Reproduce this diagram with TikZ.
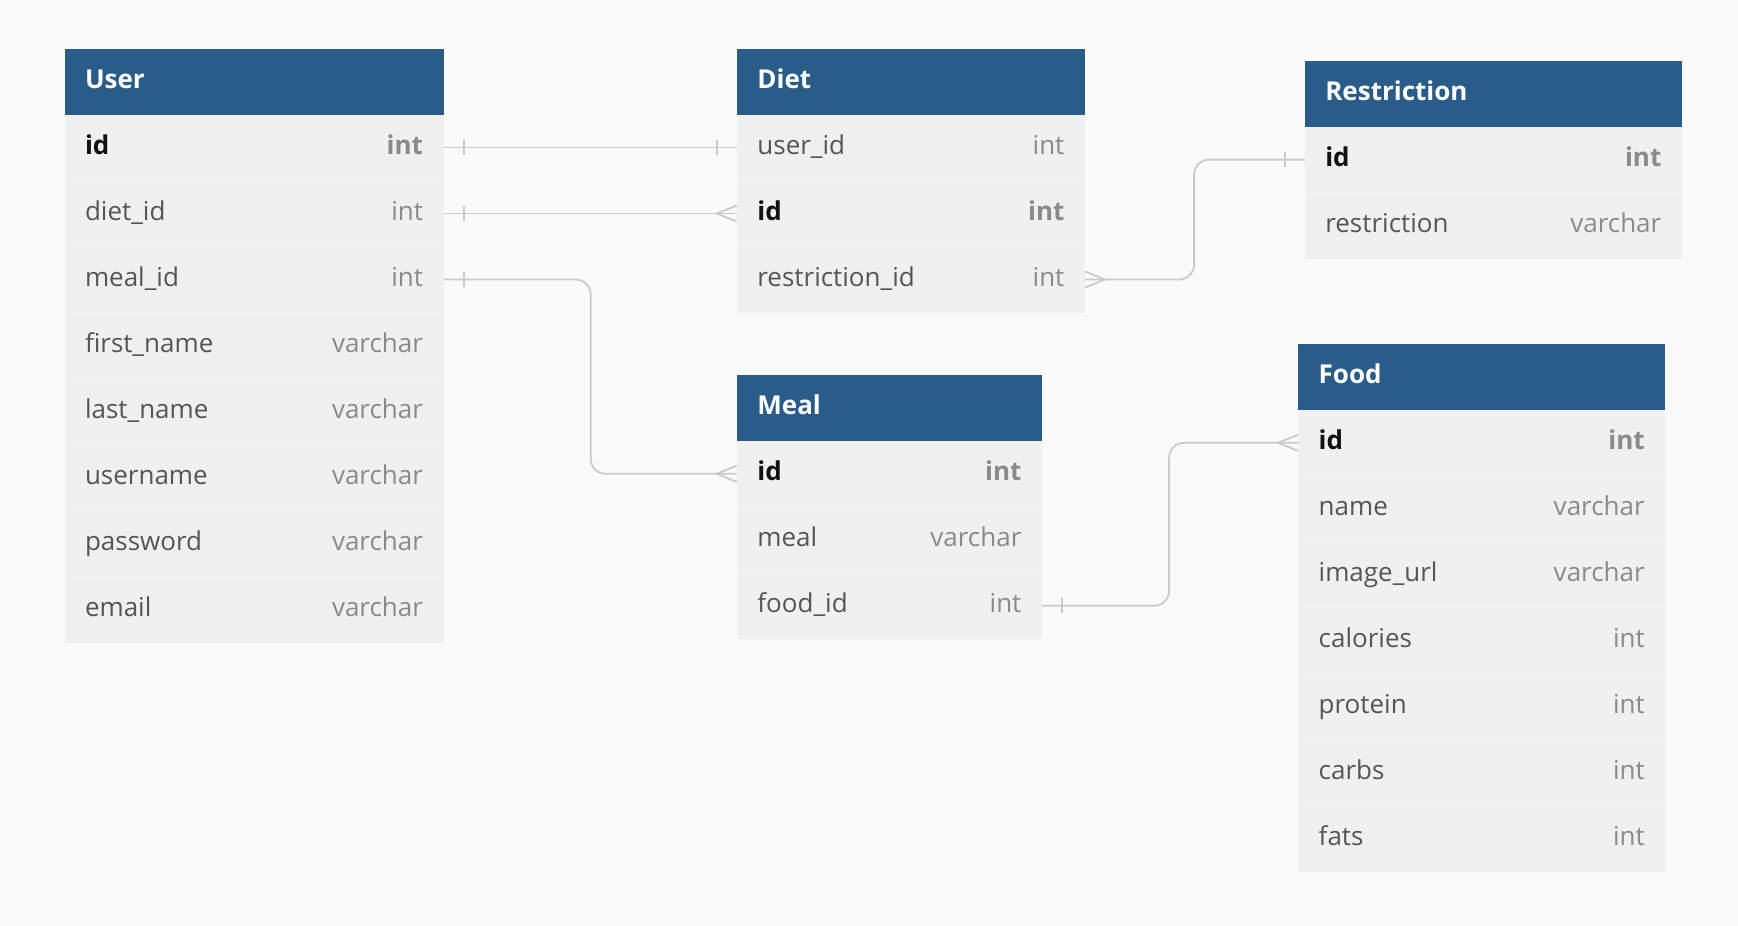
\documentclass[tikz,border=0pt]{standalone}
\usepackage{fontspec}
\setmainfont{Open Sans}
\definecolor{bgc}{HTML}{FAFAFA}
\definecolor{hdrc}{HTML}{2A5C8A}
\definecolor{rowc}{HTML}{F0F0F0}
\definecolor{sepc}{HTML}{F3F3F3}
\definecolor{fieldc}{HTML}{555555}
\definecolor{typec}{HTML}{8A8A8A}
\definecolor{keyc}{HTML}{111111}
\definecolor{linec}{HTML}{CACACA}
\newcommand\hdr[5]{\node[hdrbox, text width=#4] (#1) at (#2,#3) {#5};}
\newcommand\frow[6]{\node[rowbox, text width=#4] (#1) at (#2,#3) {\textcolor{fieldc}{#5}\hfill\textcolor{typec}{#6}};}
\newcommand\krow[6]{\node[rowbox, text width=#4] (#1) at (#2,#3) {\textcolor{keyc}{\bfseries #5}\hfill\textcolor{typec}{\bfseries #6}};}
\begin{document}
\begin{tikzpicture}[x=1pt,y=-1pt,
  every node/.style={font=\fontsize{26}{30}\selectfont},
  hdrbox/.style={anchor=north west, fill=hdrc, text=white, font=\fontsize{26}{30}\selectfont\bfseries,
     inner xsep=20.5pt, inner ysep=0pt, minimum height=66pt, text height=18pt, text depth=4.6pt, align=left},
  rowbox/.style={anchor=north west, fill=rowc, inner xsep=20.5pt, inner ysep=0pt, minimum height=66pt,
     text height=18pt, text depth=4.6pt},
  conn/.style={draw=linec, line width=1.8pt},
  elbow/.style={conn, rounded corners=15pt}]
\fill[bgc] (0,0) rectangle (1738,926);
% User
\hdr{user}{64.3}{48.3}{338pt}{User}
\krow{user-id}{64.3}{114.3}{338pt}{id}{int}
\frow{user-diet}{64.3}{180.3}{338pt}{diet\_id}{int}
\frow{user-meal}{64.3}{246.3}{338pt}{meal\_id}{int}
\frow{user-first}{64.3}{312.3}{338pt}{first\_name}{varchar}
\frow{user-last}{64.3}{378.3}{338pt}{last\_name}{varchar}
\frow{user-uname}{64.3}{444.3}{338pt}{username}{varchar}
\frow{user-pw}{64.3}{510.3}{338pt}{password}{varchar}
\frow{user-email}{64.3}{576.3}{338pt}{email}{varchar}
% Diet
\hdr{diet}{736.7}{48.3}{307pt}{Diet}
\frow{diet-user}{736.7}{114.3}{307pt}{user\_id}{int}
\krow{diet-id}{736.7}{180.3}{307pt}{id}{int}
\frow{diet-restr}{736.7}{246.3}{307pt}{restriction\_id}{int}
% Restriction
\hdr{restr}{1304.6}{60.4}{336pt}{Restriction}
\krow{restr-id}{1304.6}{126.4}{336pt}{id}{int}
\frow{restr-name}{1304.6}{192.4}{336pt}{restriction}{varchar}
% Meal
\hdr{meal}{736.7}{374.6}{264pt}{Meal}
\krow{meal-id}{736.7}{440.6}{264pt}{id}{int}
\frow{meal-meal}{736.7}{506.6}{264pt}{meal}{varchar}
\frow{meal-food}{736.7}{572.6}{264pt}{food\_id}{int}
% Food
\hdr{food}{1298}{343.6}{326pt}{Food}
\krow{food-id}{1298}{409.6}{326pt}{id}{int}
\frow{food-name}{1298}{475.6}{326pt}{name}{varchar}
\frow{food-img}{1298}{541.6}{326pt}{image\_url}{varchar}
\frow{food-cal}{1298}{607.6}{326pt}{calories}{int}
\frow{food-prot}{1298}{673.6}{326pt}{protein}{int}
\frow{food-carbs}{1298}{739.6}{326pt}{carbs}{int}
\frow{food-fats}{1298}{805.6}{326pt}{fats}{int}
% row separators
\foreach \r in {user-diet,user-meal,user-first,user-last,user-uname,user-pw,user-email,diet-id,diet-restr,restr-name,meal-meal,meal-food,food-name,food-img,food-cal,food-prot,food-carbs,food-fats}
  \draw[sepc, line width=0.6pt] (\r.north west) -- (\r.north east);
% User.id -- Diet.user_id (one to one)
\draw[conn] (user-id.east) -- (diet-user.west);
\draw[conn] ([xshift=20pt,yshift=7.5pt]user-id.east) -- ([xshift=20pt,yshift=-7.5pt]user-id.east);
\draw[conn] ([xshift=-20pt,yshift=7.5pt]diet-user.west) -- ([xshift=-20pt,yshift=-7.5pt]diet-user.west);
% User.diet_id -- Diet.id (one to many)
\draw[conn] (user-diet.east) -- (diet-id.west);
\draw[conn] ([xshift=20pt,yshift=7.5pt]user-diet.east) -- ([xshift=20pt,yshift=-7.5pt]user-diet.east);
\draw[conn] ([yshift=8pt]diet-id.west) -- ([xshift=-20pt]diet-id.west) -- ([yshift=-8pt]diet-id.west);
% User.meal_id -- Meal.id
\draw[elbow] (user-meal.east) -- ++(147,0) |- (meal-id.west);
\draw[conn] ([xshift=20pt,yshift=7.5pt]user-meal.east) -- ([xshift=20pt,yshift=-7.5pt]user-meal.east);
\draw[conn] ([yshift=8pt]meal-id.west) -- ([xshift=-20pt]meal-id.west) -- ([yshift=-8pt]meal-id.west);
% Diet.restriction_id -- Restriction.id
\draw[elbow] (diet-restr.east) -- ++(109,0) |- (restr-id.west);
\draw[conn] ([yshift=8pt]diet-restr.east) -- ([xshift=20pt]diet-restr.east) -- ([yshift=-8pt]diet-restr.east);
\draw[conn] ([xshift=-20pt,yshift=7.5pt]restr-id.west) -- ([xshift=-20pt,yshift=-7.5pt]restr-id.west);
% Meal.food_id -- Food.id
\draw[elbow] (meal-food.east) -- ++(127,0) |- (food-id.west);
\draw[conn] ([xshift=20pt,yshift=7.5pt]meal-food.east) -- ([xshift=20pt,yshift=-7.5pt]meal-food.east);
\draw[conn] ([yshift=8pt]food-id.west) -- ([xshift=-20pt]food-id.west) -- ([yshift=-8pt]food-id.west);
\end{tikzpicture}
\end{document}
